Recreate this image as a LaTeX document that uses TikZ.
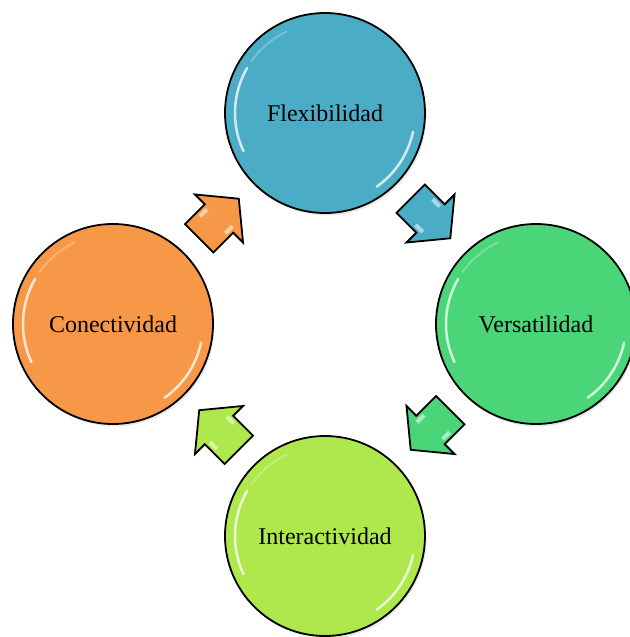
\documentclass[tikz,border=0pt]{standalone}
\usepackage{fontspec}
\setmainfont{Liberation Serif}
\usetikzlibrary{calc, shadows}

\definecolor{flexblue}{RGB}{75,172,198}
\definecolor{versgreen}{RGB}{74,214,120}
\definecolor{interlime}{RGB}{174,232,76}
\definecolor{conecorange}{RGB}{246,152,72}

\begin{document}
\begin{tikzpicture}[x=1pt, y=1pt,
    % glossy circles of the cycle
    bubble/.style={circle, draw=black, line width=1.8pt, minimum size=200pt, inner sep=0pt,
        font=\fontsize{24}{28}\selectfont, fill=#1,
        drop shadow={opacity=0.18, shadow xshift=1.5pt, shadow yshift=-2.5pt}},
    gloss/.style={white, opacity=0.75, line width=2.5pt, line cap=round},
    % block arrow sitting between two circles
    pics/cyclearrow/.style={code={
        \draw[line width=1.8pt, fill=#1, miter limit=4] (-28,-20) -- (0,-20) -- (0,-34) -- (28,0)
            -- (0,34) -- (0,20) -- (-28,20) -- cycle;
        \fill[white, opacity=0.55] (-12,13) -- (-2,13) -- (-2,17) -- (-12,17) -- cycle;
        \fill[white, opacity=0.55] (-6,-13) -- (4,-13) -- (4,-17) -- (-6,-17) -- cycle;
    }}]

\useasboundingbox (-325,-313) rectangle (304,324);

% the four circles
\node[bubble=flexblue] (flex) at (0,211) {Flexibilidad};
\node[bubble=versgreen] (vers) at (211,0) {Versatilidad};
\node[bubble=interlime] (inter) at (0,-212) {Interactividad};
\node[bubble=conecorange] (conec) at (-212,0) {Conectividad};

% shine along the rims
\foreach \n in {flex, vers, inter, conec} {
    \draw[gloss] ($(\n.center)+(150:90pt)$) arc[start angle=150, end angle=205, radius=90pt];
    \draw[gloss] ($(\n.center)+(-12:90pt)$) arc[start angle=-12, end angle=-55, radius=90pt];
    \draw[white, opacity=0.25, line width=2pt] ($(\n.center)+(115:90pt)$) arc[start angle=115, end angle=145, radius=90pt];
}

% arrows between neighbours
\pic[rotate=45] (a1) at ($(conec)!0.5!(flex)$) {cyclearrow=conecorange};
\pic[rotate=-45] (a2) at ($(flex)!0.5!(vers)$) {cyclearrow=flexblue};
\pic[rotate=-135] (a3) at ($(vers)!0.5!(inter)$) {cyclearrow=versgreen};
\pic[rotate=135] (a4) at ($(inter)!0.5!(conec)$) {cyclearrow=interlime};

\end{tikzpicture}
\end{document}
